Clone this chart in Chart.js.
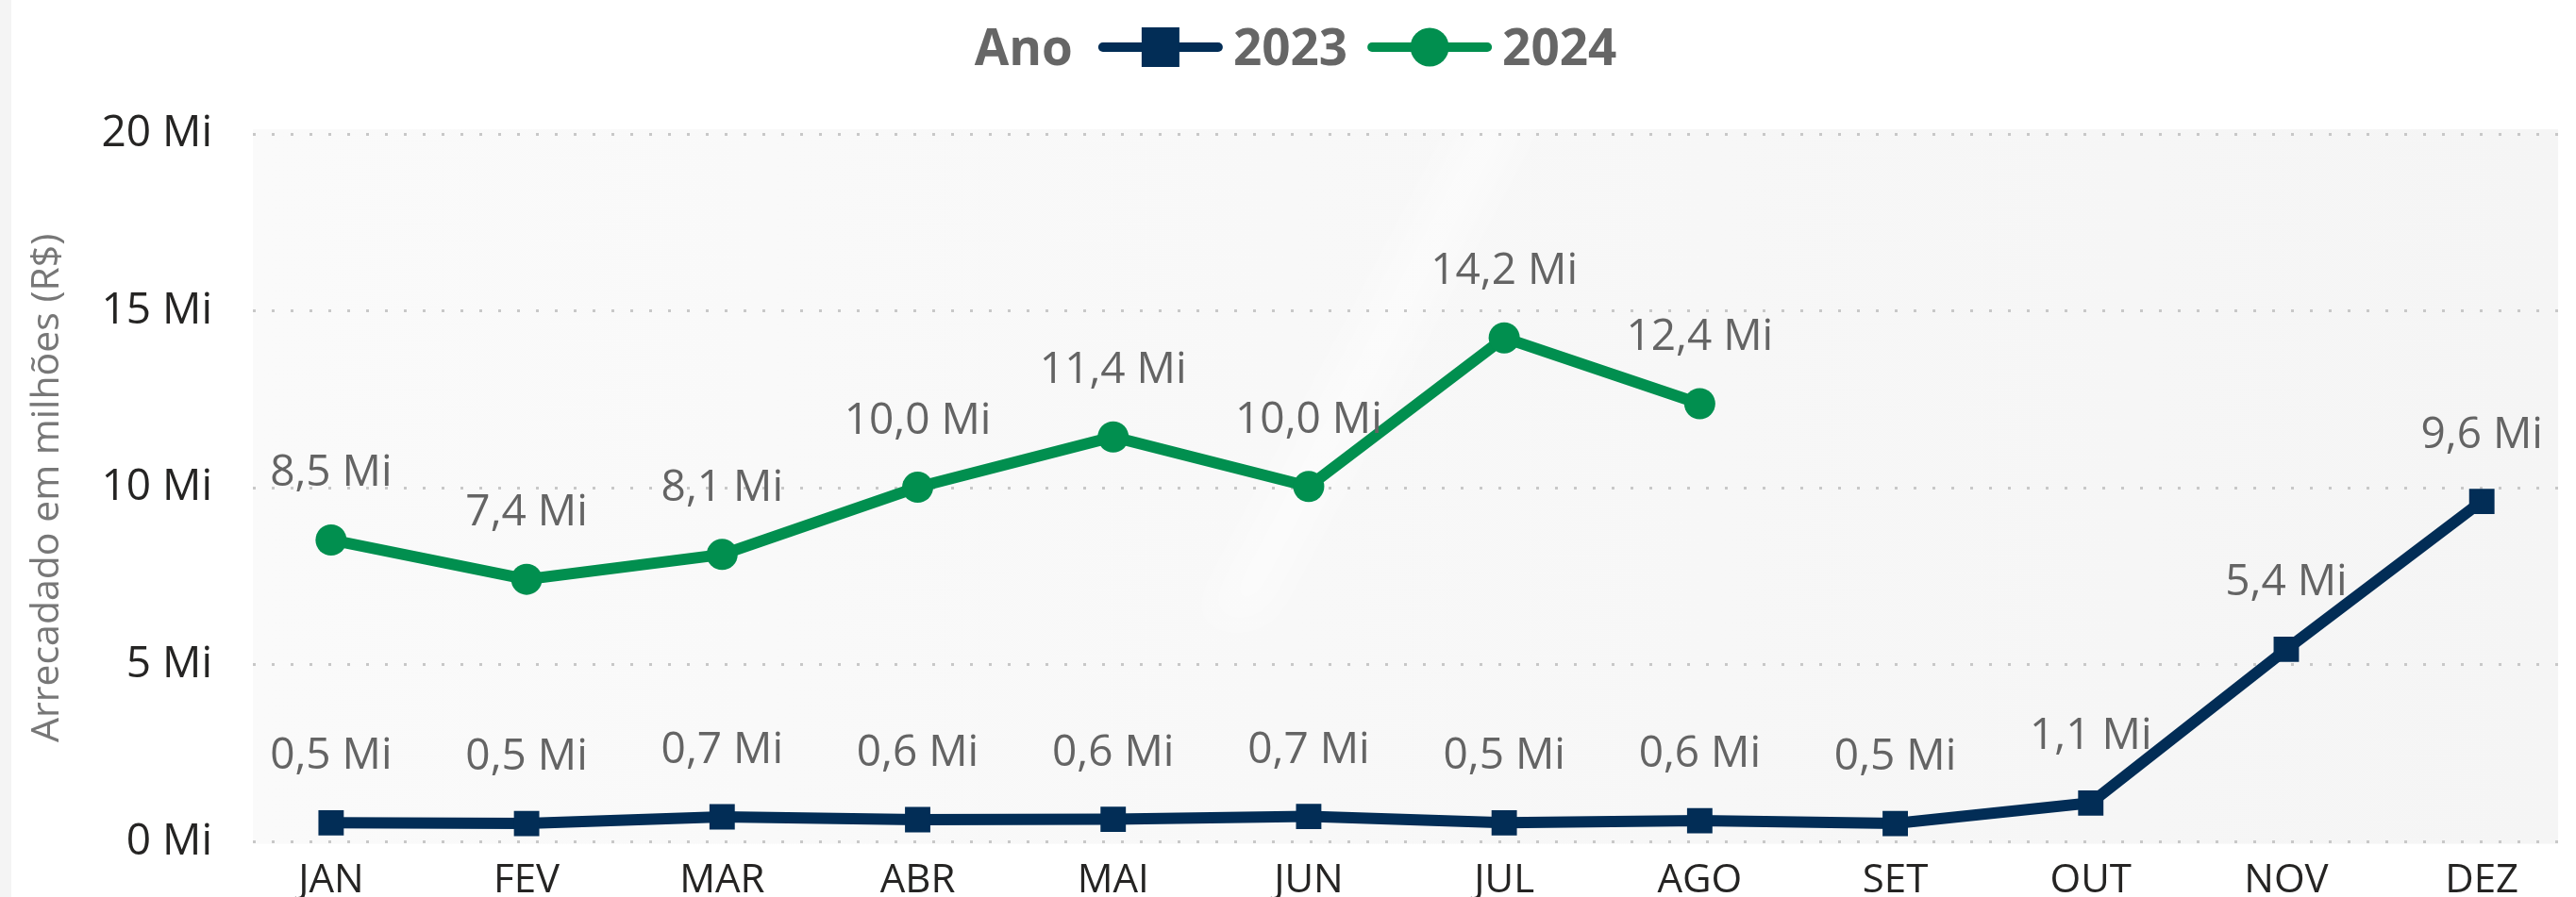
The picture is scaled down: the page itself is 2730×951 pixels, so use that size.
<!DOCTYPE html>
<html><head><meta charset="utf-8">
<script src="https://cdn.jsdelivr.net/npm/chart.js@4.4.1/dist/chart.umd.min.js"></script>
<style>
html,body{margin:0;padding:0;background:#fff;overflow:hidden;}
#wrap{width:2730px;height:951px;overflow:hidden;position:relative;}
canvas{display:block;}
</style></head><body>
<div id="wrap"><canvas id="c" width="2730" height="975"></canvas></div>
<script>
const months = ['JAN','FEV','MAR','ABR','MAI','JUN','JUL','AGO','SET','OUT','NOV','DEZ'];
const values2023 = [0.54, 0.52, 0.71, 0.63, 0.64, 0.72, 0.54, 0.60, 0.52, 1.10, 5.44, 9.62];
const values2024 = [8.53, 7.42, 8.12, 10.02, 11.44, 10.04, 14.24, 12.38];
const seriesNames = ['2023', '2024'];
const legendTitle = 'Ano';
const axisTitle = 'Arrecadado em milhões (R$)';
const yMin = 0, yMax = 20, yStep = 5;

const C2023 = '#022d56';
const C2024 = '#018f4f';
const fmt = v => v.toFixed(1).replace('.', ',') + ' Mi';
const toPts = arr => arr.map((v, i) => ({x: i, y: v}));

const bgPlugin = {
  id: 'bg',
  beforeDraw(chart) {
    const {ctx, chartArea: a, width, height} = chart;
    ctx.save();
    ctx.fillStyle = '#ffffff';
    ctx.fillRect(0, 0, width, height);
    ctx.fillStyle = '#f4f4f4';
    ctx.fillRect(0, 0, 12, height);
    const g = ctx.createLinearGradient(a.left, 0, a.right, 0);
    g.addColorStop(0, '#fafafa');
    g.addColorStop(0.45, '#f8f8f8');
    g.addColorStop(1, '#f5f5f5');
    ctx.fillStyle = g;
    ctx.fillRect(a.left, a.top - 5, a.right - a.left, a.bottom - a.top + 7);
    // soft glare band
    ctx.save();
    ctx.beginPath();
    ctx.rect(a.left, a.top - 5, a.right - a.left, a.bottom - a.top + 7);
    ctx.clip();
    ctx.filter = 'blur(20px)';
    ctx.fillStyle = 'rgba(255,255,255,0.45)';
    ctx.beginPath();
    ctx.moveTo(1560, a.top - 30);
    ctx.lineTo(1630, a.top - 30);
    ctx.lineTo(1340, 660);
    ctx.lineTo(1270, 660);
    ctx.closePath();
    ctx.fill();
    ctx.restore();
    ctx.restore();
  }
};

const labelPlugin = {
  id: 'dlabels',
  afterDatasetsDraw(chart) {
    const {ctx} = chart;
    ctx.save();
    ctx.font = '400 46px "Open Sans"';
    ctx.fillStyle = '#646464';
    ctx.textAlign = 'center';
    ctx.textBaseline = 'alphabetic';
    chart.data.datasets.forEach((ds, di) => {
      const meta = chart.getDatasetMeta(di);
      meta.data.forEach((pt, i) => {
        ctx.fillText(fmt(ds.data[i].y), pt.x, pt.y - 57);
      });
    });
    ctx.restore();
  }
};

const legendPlugin = {
  id: 'customLegend',
  afterDraw(chart) {
    const {ctx} = chart;
    ctx.save();
    ctx.font = 'bold 53px "Open Sans"';
    ctx.fillStyle = '#666666';
    ctx.textBaseline = 'alphabetic';
    ctx.textAlign = 'left';
    const wA = ctx.measureText(legendTitle).width;
    const w1 = ctx.measureText(seriesNames[0]).width;
    const w2 = ctx.measureText(seriesNames[1]).width;
    const L = 132, g1 = 27, g2 = 11, g3 = 21;
    const total = wA + g1 + L + g2 + w1 + g3 + L + g2 + w2;
    let x = 1373 - total / 2;
    const base = 69, ly = 50;
    ctx.fillText(legendTitle, x, base);
    x += wA + g1;
    const drawLine = (x0, col) => {
      ctx.strokeStyle = col; ctx.lineWidth = 10; ctx.lineCap = 'round';
      ctx.beginPath(); ctx.moveTo(x0 + 5, ly); ctx.lineTo(x0 + L - 5, ly); ctx.stroke();
    };
    drawLine(x, C2023);
    ctx.fillStyle = C2023;
    ctx.fillRect(x + L / 2 - 20, ly - 21, 40, 42);
    x += L + g2;
    ctx.fillStyle = '#666666';
    ctx.fillText(seriesNames[0], x, base);
    x += w1 + g3;
    drawLine(x, C2024);
    ctx.fillStyle = C2024;
    ctx.beginPath(); ctx.arc(x + L / 2, ly, 20.5, 0, Math.PI * 2); ctx.fill();
    x += L + g2;
    ctx.fillStyle = '#666666';
    ctx.fillText(seriesNames[1], x, base);
    ctx.restore();
  }
};

new Chart(document.getElementById('c'), {
  type: 'line',
  data: {
    datasets: [
      {
        label: seriesNames[0], data: toPts(values2023),
        borderColor: C2023, backgroundColor: C2023, borderWidth: 12,
        pointStyle: 'rect', pointRadius: 19, pointBorderWidth: 0,
        pointBackgroundColor: C2023, tension: 0
      },
      {
        label: seriesNames[1], data: toPts(values2024),
        borderColor: C2024, backgroundColor: C2024, borderWidth: 12,
        pointStyle: 'circle', pointRadius: 16.5, pointBorderWidth: 0,
        pointBackgroundColor: C2024, tension: 0
      }
    ]
  },
  options: {
    responsive: false,
    animation: false,
    devicePixelRatio: 1,
    layout: {padding: {top: 142, left: 0, right: 0, bottom: 0}},
    plugins: {legend: {display: false}, tooltip: {enabled: false}},
    scales: {
      x: {
        type: 'linear', min: -0.40, max: 11.39,
        grid: {display: false, drawTicks: false},
        border: {display: false},
        ticks: {
          stepSize: 1, autoSkip: false, maxRotation: 0, includeBounds: false, maxTicksLimit: 30,
          padding: 16,
          color: '#252423',
          font: {family: 'Open Sans', size: 42},
          callback: v => (Number.isInteger(v) && months[v]) ? months[v] : ''
        }
      },
      y: {
        min: yMin, max: yMax,
        afterFit(s) { s.width = 268; },
        grid: {color: '#c8c8c8', lineWidth: 3, drawTicks: false},
        border: {display: false, dash: [3, 17]},
        ticks: {
          stepSize: yStep, padding: 43, color: '#252423',
          font: {family: 'Open Sans', size: 46},
          callback: v => v + ' Mi'
        },
        title: {
          display: true, text: axisTitle, color: '#777777',
          font: {family: 'Open Sans', size: 41},
          padding: {top: 26, bottom: 0}
        }
      }
    }
  },
  plugins: [bgPlugin, labelPlugin, legendPlugin]
});
</script>
</body></html>
